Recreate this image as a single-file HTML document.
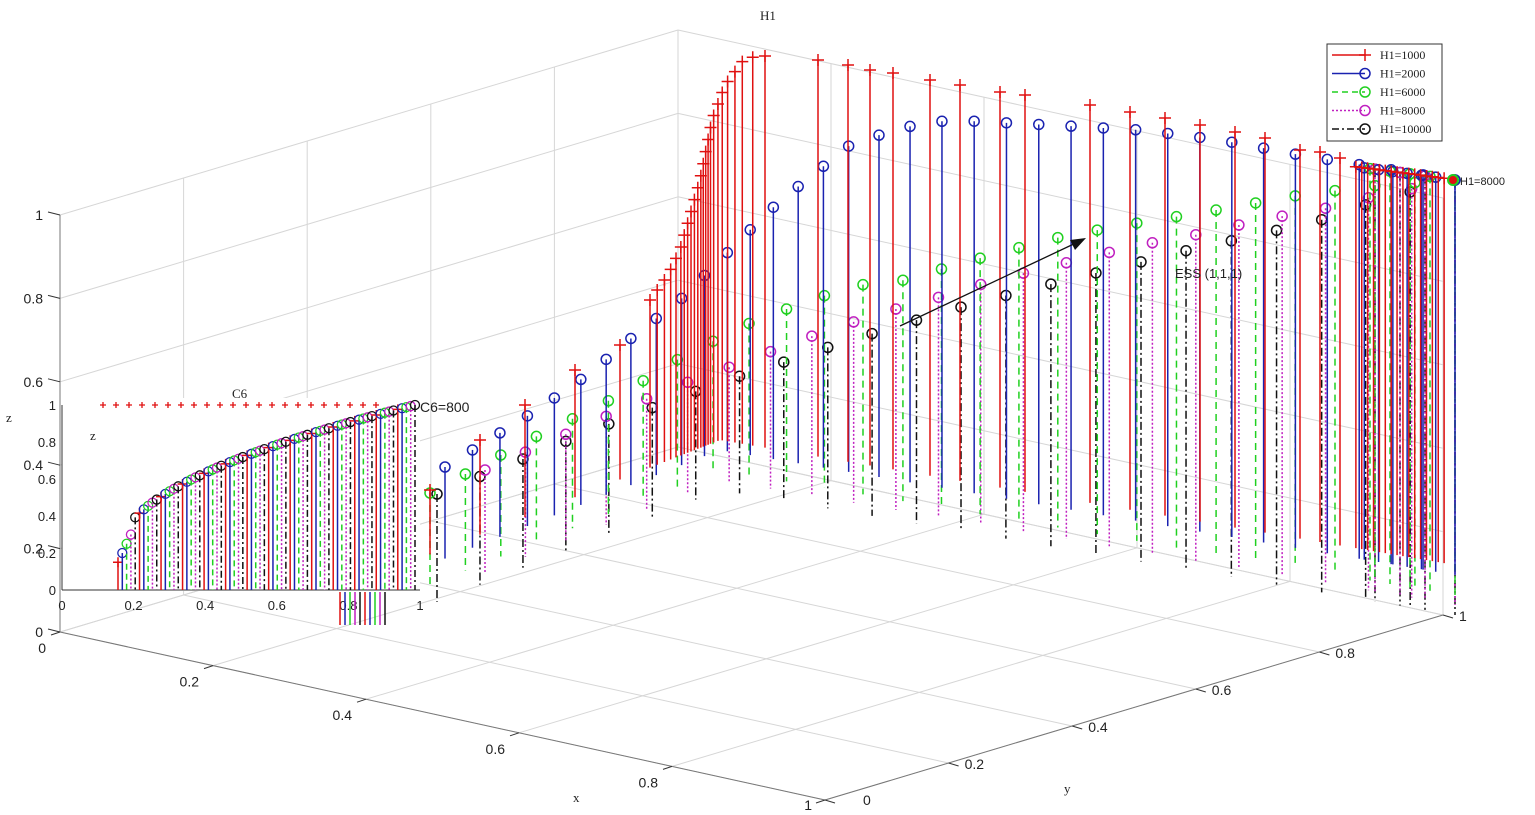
<!DOCTYPE html>
<html><head><meta charset="utf-8"><style>
html,body{margin:0;padding:0;background:#fff}
svg{display:block}
text{font-family:"Liberation Sans",sans-serif;font-size:14px;fill:#222}
.s{font-family:"Liberation Serif",serif;font-size:13px}
</style></head><body>
<svg id="g" width="1535" height="815" viewBox="0 0 1535 815" xmlns="http://www.w3.org/2000/svg">
<rect width="1535" height="815" fill="#fff"/>
<g id="grid" stroke="#d6d6d6" stroke-width="1" fill="none"></g>
<g id="stems"></g>
<g id="inset"></g>
<g id="labels"></g>
</svg>
<script>
var NS="http://www.w3.org/2000/svg";
function el(p,t,a,txt){var e=document.createElementNS(NS,t);for(var k in a)e.setAttribute(k,a[k]);if(txt!=null)e.textContent=txt;p.appendChild(e);return e;}
var O=[60,632],X=[765,168],Y=[618,-185],Z=[0,-417];
function P(x,y,z){return [O[0]+x*X[0]+y*Y[0],O[1]+x*X[1]+y*Y[1]+z*Z[1]];}
var grid=document.getElementById('grid');
function L(a,b,c){el(grid,'line',{x1:a[0],y1:a[1],x2:b[0],y2:b[1],stroke:c||'#d6d6d6'});}
for(var i=0;i<=5;i++){var v=i/5;
 L(P(0,0,v),P(0,1,v));L(P(0,1,v),P(1,1,v));
 L(P(0,v,0),P(0,v,1));L(P(v,1,0),P(v,1,1));
 L(P(v,0,0),P(v,1,0));L(P(0,v,0),P(1,v,0));}
L(P(0,0,0),P(0,0,1),'#777');L(P(0,0,0),P(1,0,0),'#777');L(P(1,0,0),P(1,1,0),'#777');
var lab=document.getElementById('labels');
for(var i=0;i<=5;i++){var v=i/5,t=v==0?'0':v==1?'1':v.toFixed(1);
 var a=P(0,0,v);el(lab,'line',{x1:a[0],y1:a[1],x2:a[0]-12,y2:a[1]-3,stroke:'#333'});
 el(lab,'text',{x:a[0]-17,y:a[1]+5,'text-anchor':'end'},t);
 a=P(v,0,0);el(lab,'line',{x1:a[0],y1:a[1],x2:a[0]-9,y2:a[1]+3,stroke:'#333'});
 if(v==1)el(lab,'text',{x:812,y:810,'text-anchor':'end'},t);
 else el(lab,'text',{x:a[0]-14,y:a[1]+21,'text-anchor':'end'},t);
 a=P(1,v,0);el(lab,'line',{x1:a[0],y1:a[1],x2:a[0]+10,y2:a[1]+3,stroke:'#333'});
 if(v==0)el(lab,'text',{x:863,y:805},t);
 else el(lab,'text',{x:a[0]+16,y:a[1]+6,'text-anchor':'start'},t);}
el(lab,'text',{x:573,y:802,'class':'s'},'x');
el(lab,'text',{x:1064,y:793,'class':'s'},'y');
el(lab,'text',{x:6,y:422,'class':'s'},'z');
el(lab,'text',{x:760,y:20,'class':'s'},'H1');
var st=document.getElementById('stems');
function interp(pts,n){var out=[],len=[0];for(var i=1;i<pts.length;i++)len.push(len[i-1]+Math.hypot(pts[i][0]-pts[i-1][0],pts[i][1]-pts[i-1][1]));
 var T=len[len.length-1];
 for(var k=0;k<n;k++){var d=k/(n-1)*T,j=1;while(j<pts.length-1&&len[j]<d)j++;
 var f=(d-len[j-1])/(len[j]-len[j-1]||1);out.push([pts[j-1][0]+f*(pts[j][0]-pts[j-1][0]),pts[j-1][1]+f*(pts[j][1]-pts[j-1][1])]);}return out;}
function bot(x){if(x<720)return 620-(x-340)*150/380; return 470+(x-720)*125/735;}
var redPts=[[430,490],[480,440],[525,405],[575,370],[620,345]].concat(interp([[650,300],[668,275],[680,250],[690,215],[700,180],[712,120],[725,85],[745,58],[765,56]],24)).concat([[818,60],[848,65],[870,70],[893,73],[930,80],[960,85],[1000,92],[1025,95],[1090,105],[1130,112],[1165,118],[1200,125],[1235,132],[1265,138],[1300,150],[1320,152],[1340,158]]);
var ser=[
 {c:'#e01010',m:'+',d:'',off:-30,raw:redPts,cl:16},
 {c:'#1a22b0',m:'o',d:'',off:-20,pts:[[445,467],[540,408],[590,373],[635,335],[680,300],[720,260],[770,210],[800,185],[850,145],[900,128],[950,120],[1050,125],[1140,130],[1220,140],[1300,155],[1380,168],[1455,180]],n:36,cl:6},
 {c:'#20d020',m:'o',d:'7,5',off:0,pts:[[430,493],[525,442],[570,420],[620,395],[680,358],[745,325],[810,300],[860,285],[905,280],[955,265],[1010,250],[1060,237],[1125,225],[1205,212],[1300,195],[1380,185],[1455,180]],n:28,cl:4},
 {c:'#c020c0',m:'o',d:'2,2',off:10,pts:[[485,470],[580,428],[625,408],[672,388],[727,368],[775,350],[828,330],[885,312],[947,295],[995,280],[1045,268],[1090,257],[1140,245],[1190,236],[1270,218],[1310,212],[1380,195],[1455,180]],n:24,cl:3},
 {c:'#111',m:'o',d:'8,3,2,3',off:20,pts:[[437,494],[555,446],[590,431],[670,401],[718,383],[775,365],[832,346],[900,325],[975,303],[1020,292],[1063,281],[1108,270],[1153,259],[1197,248],[1240,239],[1278,230],[1315,222],[1380,200],[1455,180]],n:24,cl:3}];
ser.slice().reverse().forEach(function(s){var pts=s.raw?s.raw.slice():interp(s.pts,s.n);
 for(var k=1;k<=s.cl;k++){var f=k/(s.cl+1);pts.push([1350+f*100,166+f*13]);}
 pts.forEach(function(p){var b=bot(p[0])+s.off;
  el(st,'line',{x1:p[0],y1:p[1],x2:p[0],y2:b,stroke:s.c,'stroke-width':1.5,'stroke-dasharray':s.d});
  if(s.m=='+'){el(st,'path',{d:'M'+(p[0]-6)+' '+p[1]+'h12M'+p[0]+' '+(p[1]-6)+'v12',stroke:s.c,'stroke-width':1.5});}
  else el(st,'circle',{cx:p[0],cy:p[1],r:5,fill:'none',stroke:s.c,'stroke-width':1.5});});});
el(st,'circle',{cx:1453,cy:180,r:5,fill:'#e01010',stroke:'#20d020','stroke-width':2});
el(st,'text',{x:1460,y:185,style:'font-size:11px'},'H1=8000');
el(st,'line',{x1:900,y1:326,x2:1078,y2:242,stroke:'#111','stroke-width':1.3});
el(st,'path',{d:'M1086,238 L1070,240 L1075,250 Z',fill:'#111'});
el(st,'text',{x:1175,y:278,style:'font-size:13px'},'ESS (1,1,1)');
var lg=el(st,'g',{});
el(lg,'rect',{x:1327,y:44,width:115,height:97,fill:'#fff',stroke:'#333'});
var ln=[['H1=1000','#e01010','','+'],['H1=2000','#1a22b0','','o'],['H1=6000','#20d020','6,4','o'],['H1=8000','#c020c0','2,2','o'],['H1=10000','#111','7,3,2,3','o']];
ln.forEach(function(r,i){var y=55+i*18.5;
 el(lg,'line',{x1:1332,y1:y,x2:1365,y2:y,stroke:r[1],'stroke-width':1.5,'stroke-dasharray':r[2]});
 if(r[3]=='+')el(lg,'path',{d:'M1359 '+y+'h12M1365 '+(y-6)+'v12',stroke:r[1],'stroke-width':1.5});
 else el(lg,'circle',{cx:1365,cy:y,r:5,fill:'none',stroke:r[1],'stroke-width':1.5});
 el(lg,'text',{x:1380,y:y+4,'class':'s',style:'font-size:12px'},r[0]);});
var ins=document.getElementById('inset');
el(ins,'rect',{x:62,y:398,width:358,height:193,fill:'#fff'});
el(ins,'line',{x1:62,y1:590,x2:420,y2:590,stroke:'#333'});
el(ins,'line',{x1:62,y1:405,x2:62,y2:590,stroke:'#333'});
for(var i=0;i<=5;i++){var v=i/5,t=v==0?'0':v==1?'1':v.toFixed(1);
 el(ins,'text',{x:56,y:595-v*185,'text-anchor':'end',style:'font-size:13px'},t);
 el(ins,'text',{x:62+v*358,y:610,'text-anchor':'middle',style:'font-size:13px'},t);}
el(ins,'text',{x:232,y:398,'class':'s'},'C6');
el(ins,'text',{x:90,y:440,'class':'s'},'z');
el(ins,'text',{x:420,y:412,style:'font-size:14px'},'C6=800');
var cs=['#e01010','#1a22b0','#20d020','#c020c0','#111'];
for(var k=0;k<70;k++){var u=k/69,x=118+u*297,yy=590-185*(0.2+0.8*Math.pow(u,0.5));if(k<4)yy=590-185*(0.15+0.05*k);
 var c=cs[k%5];
 el(ins,'line',{x1:x,y1:yy,x2:x,y2:590,stroke:c,'stroke-width':1.5,'stroke-dasharray':k%5==2?'6,4':k%5==3?'2,2':k%5==4?'7,3,2,3':''});
 if(k%5==0)el(ins,'path',{d:'M'+(x-5)+' '+yy+'h10M'+x+' '+(yy-5)+'v10',stroke:c,'stroke-width':1.5});
 else el(ins,'circle',{cx:x,cy:yy,r:4.5,fill:'none',stroke:c,'stroke-width':1.3});}
for(var k=0;k<22;k++){el(ins,'path',{d:'M'+(100+k*13)+' 405h6M'+(103+k*13)+' 402v6',stroke:'#e01010','stroke-width':1.3});}
for(var k=0;k<10;k++){var x=340+k*5;el(ins,'line',{x1:x,y1:592,x2:x,y2:625,stroke:cs[k%5],'stroke-width':1.5});}
</script>
</body></html>
